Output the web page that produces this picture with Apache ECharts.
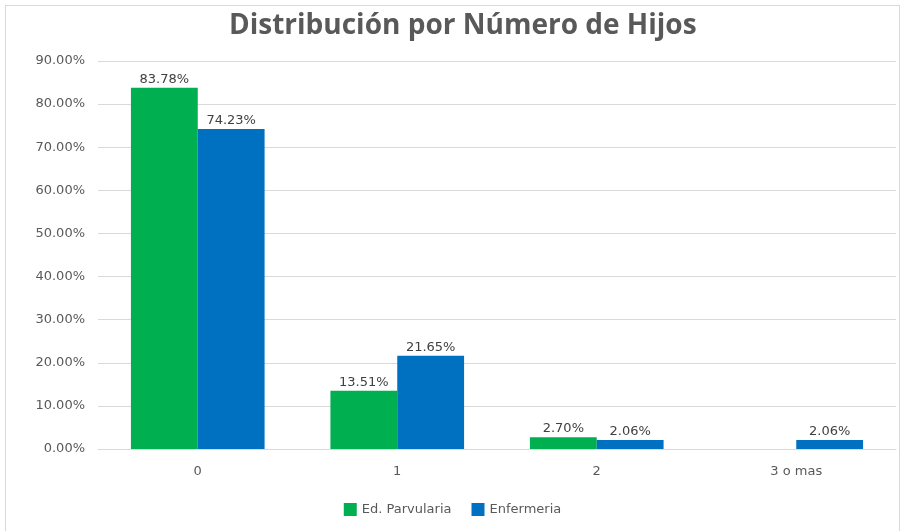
<!DOCTYPE html>
<html>
<head>
<meta charset="utf-8">
<script src="https://cdn.jsdelivr.net/npm/echarts@6/dist/echarts.min.js"></script>
<style>
  html, body { margin: 0; padding: 0; background: #fff; }
  #chart { position: absolute; left: 5px; top: 5px; width: 895px; height: 530px;
           border: 1px solid #d9d9d9; box-sizing: border-box; }
</style>
</head>
<body>
<div id="chart"></div>
<script>
const categories = ['0', '1', '2', '3 o mas'];
const parvularia = [83.78, 13.51, 2.70, null];
const enfermeria = [74.23, 21.65, 2.06, 2.06];
const yTicks = [0, 10, 20, 30, 40, 50, 60, 70, 80, 90];

const chart = echarts.init(document.getElementById('chart'));

const txtFont = 'DejaVu Sans';
const barLabel = {
  show: true,
  position: 'top',
  distance: 2,
  color: '#404040',
  fontSize: 13,
  fontFamily: txtFont,
  formatter: p => p.value == null ? '' : p.value.toFixed(2) + '%'
};

chart.setOption({
  backgroundColor: '#fff',
  title: {
    text: 'Distribución por Número de Hijos',
    left: 218,
    top: 1,
    textStyle: { color: '#595959', fontSize: 28, fontWeight: 'bold', fontFamily: 'Open Sans' }
  },
  legend: {
    bottom: 13,
    itemWidth: 13,
    itemHeight: 13,
    itemGap: 20,
    icon: 'rect',
    textStyle: { color: '#595959', fontSize: 13, fontFamily: txtFont },
    data: ['Ed. Parvularia', 'Enfermeria']
  },
  grid: { left: 92, right: 3, top: 55, bottom: 85 },
  xAxis: {
    type: 'category',
    data: categories,
    axisTick: { show: false },
    axisLine: { lineStyle: { color: '#d9d9d9' } },
    axisLabel: { color: '#595959', fontSize: 13, fontFamily: txtFont, margin: 16 }
  },
  yAxis: {
    type: 'value',
    min: yTicks[0],
    max: yTicks[yTicks.length - 1],
    interval: 10,
    axisLine: { show: false },
    axisTick: { show: false },
    splitLine: { lineStyle: { color: '#d9d9d9' } },
    axisLabel: {
      color: '#595959', fontSize: 13, fontFamily: txtFont, margin: 13,
      formatter: v => v.toFixed(2) + '%'
    }
  },
  series: [
    {
      name: 'Ed. Parvularia',
      type: 'bar',
      data: parvularia,
      barGap: '0%',
      barCategoryGap: '33%',
      itemStyle: { color: '#00B050' },
      label: barLabel
    },
    {
      name: 'Enfermeria',
      type: 'bar',
      data: enfermeria,
      itemStyle: { color: '#0070C0' },
      label: barLabel
    }
  ]
});
</script>
</body>
</html>
